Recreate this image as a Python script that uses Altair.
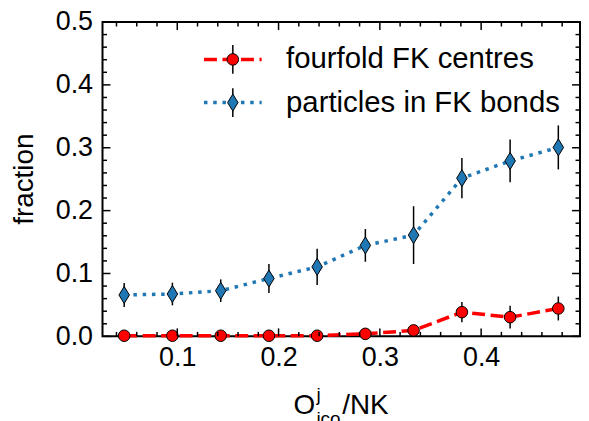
import altair as alt
import numpy as np
import pandas as pd

# ---------------- data ----------------
x_vals = [0.0476, 0.0952, 0.1429, 0.1905, 0.2381, 0.2857, 0.3333, 0.3810, 0.4286, 0.4762]
fk_centres = [0.001, 0.001, 0.001, 0.001, 0.001, 0.004, 0.0095, 0.0385, 0.0305, 0.0443]
fk_centres_err = [0.001, 0.001, 0.002, 0.003, 0.002, 0.004, 0.006, 0.016, 0.018, 0.019]
fk_bonds = [0.0658, 0.0674, 0.0726, 0.0920, 0.1105, 0.1447, 0.1610, 0.2516, 0.2790, 0.3005]
fk_bonds_err = [0.019, 0.018, 0.018, 0.023, 0.029, 0.026, 0.046, 0.032, 0.034, 0.035]

x_tick_labels = [0.1, 0.2, 0.3, 0.4]
y_tick_labels = [0.0, 0.1, 0.2, 0.3, 0.4, 0.5]
legend_labels = ["fourfold FK centres", "particles in FK bonds"]

x_domain = [0.0262, 0.4976]
y_domain = [0.0, 0.5]

# ---------------- styling ----------------
FONT = "Liberation Sans"
W, H = 480, 316
RED = "#ff0000"
BLUE = "#1f77b4"
DIAMOND = "M0,-1L0.62,0L0,1L-0.62,0Z"

df = pd.DataFrame({
    "x": x_vals,
    "c": fk_centres,
    "c_lo": np.array(fk_centres) - np.array(fk_centres_err),
    "c_hi": np.array(fk_centres) + np.array(fk_centres_err),
    "b": fk_bonds,
    "b_lo": np.array(fk_bonds) - np.array(fk_bonds_err),
    "b_hi": np.array(fk_bonds) + np.array(fk_bonds_err),
})

xs = alt.Scale(domain=x_domain, nice=False, zero=False)
ys = alt.Scale(domain=y_domain, nice=False, zero=False)

x_enc = alt.X("x:Q", scale=xs,
              axis=alt.Axis(values=x_tick_labels, format=".1f", title=None,
                            labelPadding=8))
y_axis = alt.Axis(values=y_tick_labels, format=".1f", title=None, labelPadding=10)

base = alt.Chart(df)

red_line = base.mark_line(color=RED, strokeWidth=3.5, strokeDash=[13, 5.6]).encode(
    x=x_enc, y=alt.Y("c:Q", scale=ys, axis=y_axis))
blue_line = base.mark_line(color=BLUE, strokeWidth=3.5, strokeDash=[3.5, 5.8]).encode(
    x=alt.X("x:Q", scale=xs), y=alt.Y("b:Q", scale=ys))

red_err = base.mark_rule(color="black", strokeWidth=1.5).encode(
    x=alt.X("x:Q", scale=xs), y=alt.Y("c_lo:Q", scale=ys), y2="c_hi:Q")
blue_err = base.mark_rule(color="black", strokeWidth=1.5).encode(
    x=alt.X("x:Q", scale=xs), y=alt.Y("b_lo:Q", scale=ys), y2="b_hi:Q")

red_pts = base.mark_point(shape="circle", filled=True, fill=RED, stroke="black",
                          strokeWidth=1, size=135, opacity=1).encode(
    x=alt.X("x:Q", scale=xs), y=alt.Y("c:Q", scale=ys))
blue_pts = base.mark_point(shape=DIAMOND, filled=True, fill=BLUE, stroke="black",
                           strokeWidth=1, size=290, opacity=1).encode(
    x=alt.X("x:Q", scale=xs), y=alt.Y("b:Q", scale=ys))

# ---------------- inward ticks on all four sides ----------------
minor = [v for v in np.round(np.arange(0.04, 0.495, 0.02), 2) if round(v * 10, 6) % 1 != 0]
xt_major = pd.DataFrame({"t": x_tick_labels})
xt_minor = pd.DataFrame({"t": minor})
yt_major = pd.DataFrame({"t": y_tick_labels})
yt_minor = pd.DataFrame({"t": [v for v in np.round(np.arange(0.02, 0.5, 0.02), 2)
                               if round(v * 10, 6) % 1 != 0]})

def xticks(d, L):
    bot = alt.Chart(d).mark_rule(color="black", strokeWidth=1.5).encode(
        x=alt.X("t:Q", scale=xs), y=alt.value(H), y2=alt.value(H - L))
    top = alt.Chart(d).mark_rule(color="black", strokeWidth=1.5).encode(
        x=alt.X("t:Q", scale=xs), y=alt.value(0), y2=alt.value(L))
    return bot + top

def yticks(d, L):
    lft = alt.Chart(d).mark_rule(color="black", strokeWidth=1.5).encode(
        y=alt.Y("t:Q", scale=ys), x=alt.value(0), x2=alt.value(L))
    rgt = alt.Chart(d).mark_rule(color="black", strokeWidth=1.5).encode(
        y=alt.Y("t:Q", scale=ys), x=alt.value(W), x2=alt.value(W - L))
    return lft + rgt

ticks = xticks(xt_major, 8) + xticks(xt_minor, 4.5) + yticks(yt_major, 8) + yticks(yt_minor, 4.5)

# ---------------- manual legend ----------------
one = alt.Chart(pd.DataFrame({"k": [0]}))
LY1, LY2 = 37.6, 81
LX0, LX1, LXM, LXT = 102, 160, 131, 184.5
LFS = 29.5

leg = (
    one.mark_rule(color=RED, strokeWidth=3.5, strokeDash=[13, 5.6]).encode(
        x=alt.value(LX0), x2=alt.value(LX1), y=alt.value(LY1))
    + one.mark_rule(color="black", strokeWidth=1.5).encode(
        x=alt.value(LXM), y=alt.value(LY1 - 14.5), y2=alt.value(LY1 + 14.5))
    + one.mark_point(shape="circle", filled=True, fill=RED, stroke="black",
                     strokeWidth=1, size=135, opacity=1).encode(
        x=alt.value(LXM), y=alt.value(LY1))
    + one.mark_text(text=legend_labels[0], align="left", baseline="middle",
                    font=FONT, fontSize=LFS, color="black").encode(
        x=alt.value(LXT), y=alt.value(LY1))
    + one.mark_rule(color=BLUE, strokeWidth=3.5, strokeDash=[3.5, 5.8]).encode(
        x=alt.value(LX0), x2=alt.value(LX1), y=alt.value(LY2))
    + one.mark_rule(color="black", strokeWidth=1.5).encode(
        x=alt.value(LXM), y=alt.value(LY2 - 14.5), y2=alt.value(LY2 + 14.5))
    + one.mark_point(shape=DIAMOND, filled=True, fill=BLUE, stroke="black",
                     strokeWidth=1, size=290, opacity=1).encode(
        x=alt.value(LXM), y=alt.value(LY2))
    + one.mark_text(text=legend_labels[1], align="left", baseline="middle",
                    font=FONT, fontSize=LFS, color="black").encode(
        x=alt.value(LXT), y=alt.value(LY2))
)

# ---------------- axis titles ----------------
ytitle = one.mark_text(text="fraction", angle=270, align="center", baseline="middle",
                       font=FONT, fontSize=28, color="black").encode(
    x=alt.value(-78), y=alt.value(H / 2))

TX, TB = 192, 394
xtitle = (
    one.mark_text(text="O", align="left", baseline="alphabetic", font=FONT,
                  fontSize=28, color="black").encode(x=alt.value(TX), y=alt.value(TB))
    + one.mark_text(text="j", align="left", baseline="alphabetic", font=FONT,
                    fontSize=19, color="black").encode(x=alt.value(TX + 23), y=alt.value(TB - 13))
    + one.mark_text(text="ico", align="left", baseline="alphabetic", font=FONT,
                    fontSize=19, color="black").encode(x=alt.value(TX + 23), y=alt.value(TB + 11))
    + one.mark_text(text="/NK", align="left", baseline="alphabetic", font=FONT,
                    fontSize=28, color="black").encode(x=alt.value(TX + 49), y=alt.value(TB))
)

chart = alt.layer(
    red_line, blue_line, red_err, blue_err, red_pts, blue_pts, ticks, leg, ytitle, xtitle
).properties(
    width=W, height=H,
    autosize=alt.AutoSizeParams(type="none"),
    padding={"left": 95, "top": 13, "right": 1, "bottom": 84},
).configure_view(
    stroke="black", strokeWidth=2
).configure_axis(
    domain=False, grid=False, ticks=False, tickSize=0,
    labelFont=FONT, labelFontSize=27, labelColor="black",
)

chart.save("out.html", embed_options={"renderer": "svg", "actions": False})
